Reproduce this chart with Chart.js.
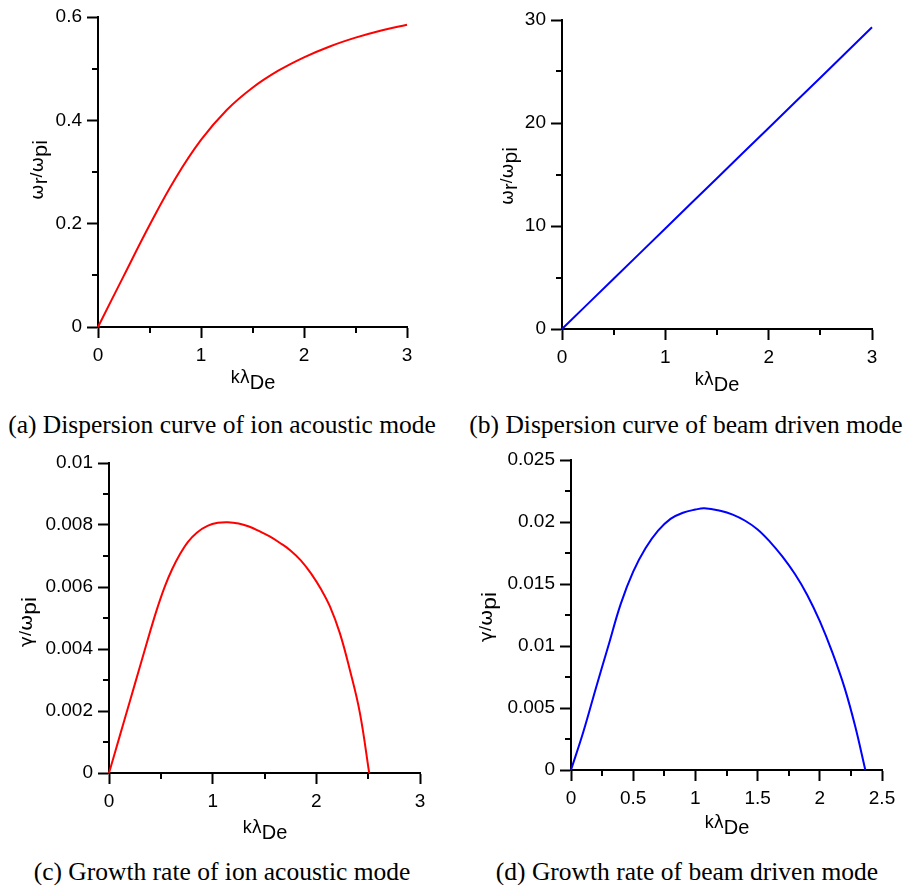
<!DOCTYPE html>
<html><head><meta charset="utf-8">
<script src="https://cdn.jsdelivr.net/npm/chart.js@4.4.1/dist/chart.umd.min.js"></script>
<style>
html,body{margin:0;padding:0;background:#fff}
body{width:905px;height:885px;position:relative;overflow:hidden}
.panel{position:absolute}
.panel canvas{display:block}
.cap{position:absolute;font-family:"Liberation Serif","Times New Roman",serif;font-size:25.5px;color:#000;white-space:nowrap;transform:translateX(-50%);line-height:26px}
</style></head><body>
<div class="panel" style="left:0;top:0"><canvas id="ca" width="452" height="400"></canvas></div>
<div class="panel" style="left:452px;top:0"><canvas id="cb" width="453" height="400"></canvas></div>
<div class="panel" style="left:0;top:440px"><canvas id="cc" width="452" height="410"></canvas></div>
<div class="panel" style="left:452px;top:440px"><canvas id="cd" width="453" height="410"></canvas></div>
<div class="cap" style="left:222px;top:412px">(a) Dispersion curve of ion acoustic mode</div>
<div class="cap" style="left:686px;top:412px">(b) Dispersion curve of beam driven mode</div>
<div class="cap" style="left:222px;top:859px">(c) Growth rate of ion acoustic mode</div>
<div class="cap" style="left:687px;top:859px">(d) Growth rate of beam driven mode</div>
<script>
// ---- data ----
const kA = [0, 0.25, 0.5, 0.75, 1, 1.25, 1.5, 1.75, 2, 2.25, 2.5, 2.75, 3];
const omegaA = [0, 0.099, 0.197, 0.287, 0.362, 0.420, 0.463, 0.496, 0.522, 0.543, 0.560, 0.574, 0.585];

const kB = [0, 0.5, 1, 1.5, 2, 2.5, 3];
const omegaB = [0, 4.88, 9.76, 14.64, 19.52, 24.4, 29.3];

const kC = [0, 0.1, 0.2, 0.3, 0.4, 0.47, 0.54, 0.61, 0.68, 0.76, 0.85, 0.95, 1.05, 1.145, 1.25, 1.35, 1.45, 1.55, 1.65, 1.75, 1.85, 1.95, 2.05, 2.13, 2.226, 2.323, 2.42, 2.51];
const gammaC = [0, 0.00115, 0.0023, 0.00345, 0.0046, 0.00536, 0.00603, 0.00658, 0.00703, 0.00745, 0.00776, 0.00797, 0.00807, 0.00809, 0.00805, 0.00795, 0.0078, 0.00763, 0.00742, 0.00718, 0.00686, 0.00643, 0.0059, 0.00538, 0.00452, 0.00333, 0.00194, 0];

const kD = [0, 0.1, 0.2, 0.3, 0.4, 0.5, 0.6, 0.7, 0.8, 0.9, 1.0, 1.072, 1.2, 1.3, 1.4, 1.5, 1.6, 1.7, 1.8, 1.9, 2.0, 2.1, 2.2, 2.285, 2.366];
const gammaD = [0, 0.0031, 0.0066, 0.0100, 0.0134, 0.0160, 0.0179, 0.0193, 0.02025, 0.02075, 0.0210, 0.0211, 0.0209, 0.0206, 0.0201, 0.0194, 0.0184, 0.0172, 0.0158, 0.0141, 0.0120, 0.0095, 0.0066, 0.0035, 0];

// tick values and labels
const xTicks3 = [0, 1, 2, 3];
const xLabels3 = ['0', '1', '2', '3'];
const xTicksD = [0, 0.5, 1, 1.5, 2, 2.5];
const xLabelsD = ['0', '0.5', '1', '1.5', '2', '2.5'];
const yTicksA = [0, 0.2, 0.4, 0.6];
const yLabelsA = ['0', '0.2', '0.4', '0.6'];
const yTicksB = [0, 10, 20, 30];
const yLabelsB = ['0', '10', '20', '30'];
const yTicksC = [0, 0.002, 0.004, 0.006, 0.008, 0.01];
const yLabelsC = ['0', '0.002', '0.004', '0.006', '0.008', '0.01'];
const yTicksD = [0, 0.005, 0.01, 0.015, 0.02, 0.025];
const yLabelsD = ['0', '0.005', '0.01', '0.015', '0.02', '0.025'];
const xMinor3 = [0.5, 1.5, 2.5];
const xMinorD = [0.25, 0.75, 1.25, 1.75, 2.25];
const yMinorA = [0.1, 0.3, 0.5];
const yMinorB = [5, 15, 25];
const yMinorC = [0.001, 0.003, 0.005, 0.007, 0.009];
const yMinorD = [0.0025, 0.0075, 0.0125, 0.0175, 0.0225];

// ---- drawing helpers ----
const SANS = '"Liberation Sans", Arial, sans-serif';
const GREEK = '"DejaVu Sans", sans-serif';
function drawRich(ctx, parts, cx, cy, rot, targetW) {
  ctx.save();
  ctx.translate(cx, cy);
  if (rot) ctx.rotate(-Math.PI / 2);
  let total = 0;
  const f = p => p.size + 'px ' + (p.g ? GREEK : SANS);
  parts.forEach(p => { ctx.font = f(p); p.w = ctx.measureText(p.t).width; total += p.w; });
  if (targetW) ctx.scale(targetW / total, 1);
  let x = -total / 2;
  ctx.textBaseline = 'alphabetic';
  ctx.textAlign = 'left';
  ctx.fillStyle = '#000';
  parts.forEach(p => { ctx.font = f(p); ctx.fillText(p.t, x, p.dy); x += p.w; });
  ctx.restore();
}
const xTitleParts = () => [{t:'k',size:18,dy:0},{t:'λ',size:17,dy:0,g:true},{t:'De',size:20,dy:6}];
const yOmegaParts = () => [{t:'ω',size:18,dy:0,g:true},{t:'r',size:20,dy:4},{t:'/',size:17,dy:-1},{t:'ω',size:18,dy:0,g:true},{t:'pi',size:21,dy:4}];
const yGammaParts = () => [{t:'γ',size:17,dy:0,g:true},{t:'/',size:17,dy:-1},{t:'ω',size:18,dy:0,g:true},{t:'pi',size:21,dy:4}];

const extras = {
  id: 'extras',
  afterDraw(chart, args, o) {
    const ctx = chart.ctx;
    const xs = chart.scales.x, ys = chart.scales.y;
    const ca = chart.chartArea;
    ctx.save();
    ctx.strokeStyle = '#000';
    ctx.lineWidth = 2;
    o.xMinor.forEach(v => {
      const px = Math.round(xs.getPixelForValue(v));
      ctx.beginPath(); ctx.moveTo(px, ca.bottom); ctx.lineTo(px, ca.bottom + 6); ctx.stroke();
    });
    o.yMinor.forEach(v => {
      const py = Math.round(ys.getPixelForValue(v));
      ctx.beginPath(); ctx.moveTo(ca.left, py); ctx.lineTo(ca.left - 6, py); ctx.stroke();
    });
    ctx.restore();
    drawRich(ctx, xTitleParts(), o.xt[0], o.xt[1], false, 0);
    drawRich(ctx, o.yParts(), o.yt[0], o.yt[1], true, o.yw);
  }
};

function makeChart(id, k, v, color, cfg) {
  const data = k.map((x, i) => ({ x: x, y: v[i] }));
  const axisCommon = {
    type: 'linear',
    grid: { display: true, drawOnChartArea: false, drawTicks: true, tickLength: 11, tickColor: '#000', tickWidth: 2 },
    border: { display: true, color: '#000', width: 2 },
  };
  return new Chart(document.getElementById(id), {
    type: 'line',
    data: { datasets: [{ data: data, borderColor: color, borderWidth: 2, pointRadius: 0, fill: false, tension: 0.4, clip: false }] },
    options: {
      responsive: false, animation: false, devicePixelRatio: 1,
      layout: { padding: { left: 0, top: cfg.top, right: cfg.right, bottom: 0 } },
      plugins: { legend: { display: false }, tooltip: { enabled: false },
        extras: { xMinor: cfg.xMinor, yMinor: cfg.yMinor, xt: cfg.xt, yt: cfg.yt, yParts: cfg.yParts, yw: cfg.ytw } },
      scales: {
        x: Object.assign({}, axisCommon, {
          min: cfg.xTicks[0], max: cfg.xTicks[cfg.xTicks.length - 1],
          afterBuildTicks: s => { s.ticks = cfg.xTicks.map(t => ({ value: t })); },
          afterFit: s => { s.height = cfg.xh; },
          ticks: { color: '#000', font: { family: SANS, size: 19 }, padding: 6, maxRotation: 0, autoSkip: false,
            callback: (val, i) => cfg.xLabels[i] }
        }),
        y: Object.assign({}, axisCommon, {
          min: cfg.yTicks[0], max: cfg.yTicks[cfg.yTicks.length - 1],
          afterBuildTicks: s => { s.ticks = cfg.yTicks.map(t => ({ value: t })); },
          afterFit: s => { s.width = cfg.yw; },
          ticks: { color: '#000', font: { family: SANS, size: 19 }, padding: 5, autoSkip: false,
            callback: (val, i) => cfg.yLabels[i] }
        })
      }
    },
    plugins: [extras]
  });
}

makeChart('ca', kA, omegaA, '#ff0000', { top: 17, right: 45, yw: 98, xh: 73,
  xTicks: xTicks3, xLabels: xLabels3, yTicks: yTicksA, yLabels: yLabelsA, xMinor: xMinor3, yMinor: yMinorA,
  xt: [253, 383], yt: [43, 170], yParts: yOmegaParts, ytw: 60 });
makeChart('cb', kB, omegaB, '#0000ff', { top: 20, right: 33, yw: 110, xh: 71,
  xTicks: xTicks3, xLabels: xLabels3, yTicks: yTicksB, yLabels: yLabelsB, xMinor: xMinor3, yMinor: yMinorB,
  xt: [265, 385], yt: [61, 176], yParts: yOmegaParts, ytw: 58 });
makeChart('cc', kC, gammaC, '#ff0000', { top: 23, right: 32, yw: 109, xh: 77,
  xTicks: xTicks3, xLabels: xLabels3, yTicks: yTicksC, yLabels: yLabelsC, xMinor: xMinor3, yMinor: yMinorC,
  xt: [265, 393], yt: [32, 182], yParts: yGammaParts, ytw: 50 });
makeChart('cd', kD, gammaD, '#0000ff', { top: 20, right: 23, yw: 119, xh: 80,
  xTicks: xTicksD, xLabels: xLabelsD, yTicks: yTicksD, yLabels: yLabelsD, xMinor: xMinorD, yMinor: yMinorD,
  xt: [275, 388], yt: [40, 177], yParts: yGammaParts, ytw: 50 });
</script>
</body></html>
